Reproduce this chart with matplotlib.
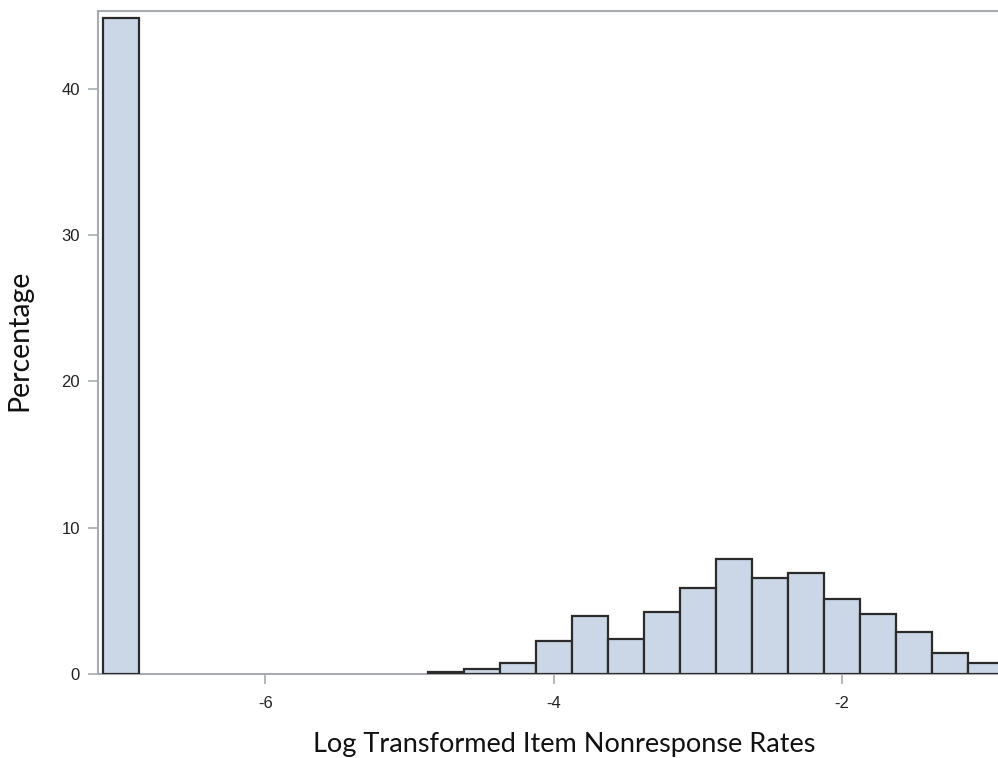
import matplotlib
matplotlib.use("Agg")
import matplotlib.pyplot as plt
import numpy as np

# Bin centers (log transformed rate) and percentages
bin_centers = [-7.0, -4.75, -4.5, -4.25, -4.0, -3.75, -3.5, -3.25, -3.0,
               -2.75, -2.5, -2.25, -2.0, -1.75, -1.5, -1.25, -1.0]
percentages = [44.8, 0.12, 0.34, 0.77, 2.23, 3.98, 2.37, 4.23, 5.88,
               7.86, 6.54, 6.88, 5.10, 4.10, 2.89, 1.41, 0.73]
bin_width = 0.25
x_ticks = [-6, -4, -2]
y_ticks = [0, 10, 20, 30, 40]

fig = plt.figure(figsize=(9.98, 7.58), dpi=100)
ax = fig.add_axes([98/998, 84/758, 1 - 98/998 + 0.002, (674-11)/758])

ax.bar(bin_centers, percentages, width=bin_width, align='center',
       color='#cbd6e6', edgecolor='#2b2b2b', linewidth=1.6, zorder=3)

ax.set_xlim(-7.16, -0.905)
ax.set_ylim(0, 45.3)
ax.set_xticks(x_ticks)
ax.set_xticklabels([str(t) for t in x_ticks])
ax.set_yticks(y_ticks)

spine_col = '#a8acb0'
for s in ['left', 'bottom', 'top', 'right']:
    ax.spines[s].set_color(spine_col)
    ax.spines[s].set_linewidth(1.5)
ax.spines['right'].set_visible(False)

ax.tick_params(axis='both', direction='out', length=7, width=1.2,
               color=spine_col, labelsize=12, labelcolor='#222222', pad=6)
for lab in ax.get_xticklabels() + ax.get_yticklabels():
    lab.set_fontfamily('Liberation Sans')
ax.tick_params(axis='x', pad=9)

ax.set_xlabel('Log Transformed Item Nonresponse Rates', fontfamily='Lato',
              fontsize=19.5, color='#111111')
ax.set_ylabel('Percentage', fontfamily='Lato', fontsize=20.5,
              color='#111111')
ax.xaxis.set_label_coords(0.517, -0.088)
ax.yaxis.set_label_coords(-0.073, 0.503)

fig.savefig('out.png', dpi=100)
